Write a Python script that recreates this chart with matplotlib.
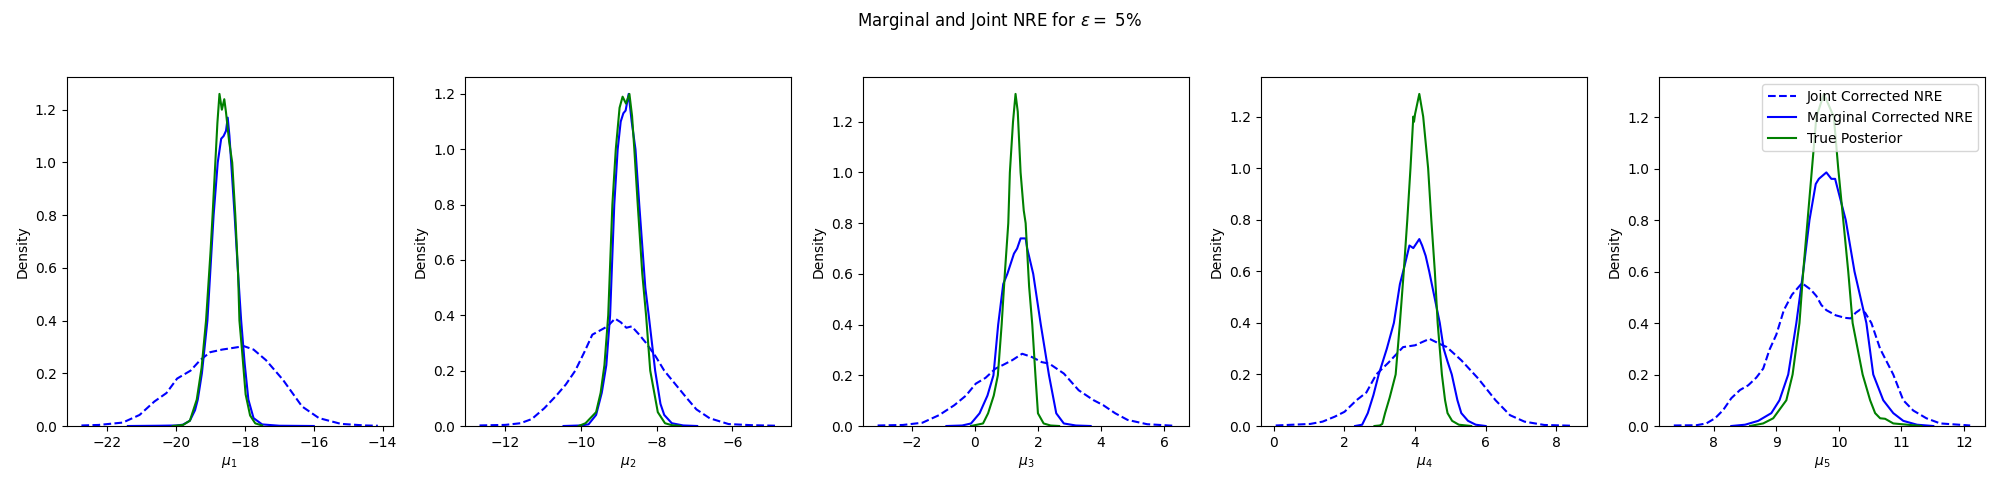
import matplotlib
matplotlib.use("Agg")
import matplotlib.pyplot as plt

# ── Curves (KDE density per parameter) ─────────────────────────────────
# mu_1
joint_x1 = [-22.75, -22.25, -21.55, -21.06, -20.63, -20.28, -19.97, -19.58, -19.3, -19.01,
            -18.66, -18.31, -18.03, -17.75, -17.39, -16.9, -16.34, -15.85, -15.21, -14.5, -14.14]
joint_y1 = [0.002, 0.004, 0.013, 0.042, 0.093, 0.125, 0.18, 0.21, 0.25, 0.28,
            0.29, 0.297, 0.303, 0.29, 0.25, 0.176, 0.074, 0.03, 0.008, 0.002, 0.001]
marg_x1 = [-21.4, -20.5, -20.0, -19.8, -19.6, -19.45, -19.37, -19.25, -19.09, -18.91, -18.79,
           -18.69, -18.62, -18.55, -18.50, -18.45, -18.40, -18.30, -18.2, -18.11, -18.01,
           -17.9, -17.75, -17.5, -17.0, -16.0]
marg_y1 = [0.0, 0.001, 0.002, 0.005, 0.02, 0.06, 0.1, 0.2, 0.40, 0.80, 1.00,
           1.09, 1.10, 1.12, 1.17, 1.10, 1.00, 0.80, 0.58, 0.40, 0.24,
           0.10, 0.03, 0.006, 0.001, 0.0]
true_x1 = [-20.1, -19.8, -19.6, -19.4, -19.26, -19.13, -19.0, -18.94, -18.86, -18.8, -18.74,
           -18.67, -18.60, -18.55, -18.46, -18.37, -18.28, -18.2, -18.16, -18.08, -17.98,
           -17.85, -17.7, -17.5]
true_y1 = [0.0, 0.004, 0.02, 0.1, 0.22, 0.4, 0.66, 0.8, 1.0, 1.15, 1.26,
           1.20, 1.24, 1.19, 1.08, 1.0, 0.8, 0.58, 0.4, 0.28, 0.12,
           0.04, 0.01, 0.002]

# mu_2
joint_x2 = [-12.68, -12.0, -11.6, -11.3, -10.97, -10.65, -10.4, -10.15, -9.9, -9.7, -9.5,
            -9.3, -9.1, -8.95, -8.8, -8.66, -8.46, -8.28, -8.02, -7.8, -7.5, -7.2, -6.95,
            -6.6, -6.1, -5.5, -4.85]
joint_y2 = [0.002, 0.004, 0.01, 0.025, 0.064, 0.11, 0.15, 0.2, 0.27, 0.33, 0.345,
            0.36, 0.388, 0.375, 0.355, 0.36, 0.33, 0.3, 0.25, 0.2, 0.15, 0.1, 0.06,
            0.028, 0.007, 0.003, 0.001]
marg_x2 = [-10.46, -10.0, -9.8, -9.6, -9.45, -9.33, -9.23, -9.12, -9.03, -8.95, -8.88, -8.82,
           -8.74, -8.66, -8.56, -8.46, -8.3, -8.21, -8.04, -7.9, -7.8, -7.6, -7.3, -6.93]
marg_y2 = [0.0, 0.002, 0.006, 0.04, 0.12, 0.22, 0.4, 0.8, 1.0, 1.1, 1.13, 1.14,
           1.2, 1.1, 1.0, 0.8, 0.5, 0.4, 0.2, 0.08, 0.04, 0.01, 0.002, 0.0]
true_x2 = [-10.06, -9.88, -9.6, -9.48, -9.38, -9.28, -9.17, -9.08, -8.98, -8.9, -8.81, -8.72,
           -8.65, -8.59, -8.5, -8.38, -8.28, -8.17, -7.97, -7.78, -7.6, -7.37]
true_y2 = [0.0, 0.01, 0.05, 0.12, 0.22, 0.4, 0.8, 1.0, 1.15, 1.19, 1.165, 1.2,
           1.12, 1.0, 0.8, 0.55, 0.4, 0.2, 0.05, 0.01, 0.003, 0.0]

# mu_3
joint_x3 = [-3.08, -2.28, -1.66, -1.13, -0.65, -0.28, 0.03, 0.34, 0.65, 0.88, 1.19, 1.5,
            1.81, 2.12, 2.36, 2.82, 3.29, 3.76, 4.07, 4.45, 4.84, 5.46, 6.31]
joint_y3 = [0.002, 0.004, 0.013, 0.043, 0.082, 0.12, 0.167, 0.19, 0.226, 0.24, 0.26, 0.285,
            0.272, 0.252, 0.246, 0.207, 0.141, 0.102, 0.082, 0.05, 0.024, 0.007, 0.001]
marg_x3 = [-0.9, -0.4, -0.12, 0.15, 0.4, 0.59, 0.74, 0.9, 1.03, 1.24, 1.34, 1.45, 1.61,
           1.66, 1.85, 2.09, 2.35, 2.58, 2.82, 3.2, 3.67]
marg_y3 = [0.0, 0.002, 0.01, 0.05, 0.12, 0.2, 0.4, 0.56, 0.6, 0.68, 0.7, 0.74, 0.74,
           0.7, 0.6, 0.4, 0.2, 0.05, 0.01, 0.002, 0.0]
true_x3 = [-0.12, 0.26, 0.42, 0.6, 0.73, 0.85, 0.95, 1.06, 1.11, 1.21, 1.29, 1.36, 1.45,
           1.55, 1.61, 1.72, 1.82, 1.92, 2.0, 2.18, 2.4, 2.67]
true_y3 = [0.0, 0.01, 0.05, 0.12, 0.2, 0.4, 0.6, 0.8, 1.0, 1.2, 1.31, 1.24, 1.0,
           0.85, 0.8, 0.55, 0.4, 0.2, 0.05, 0.01, 0.002, 0.0]

# mu_4
joint_x4 = [0.05, 1.03, 1.38, 1.72, 2.0, 2.34, 2.62, 2.9, 3.24, 3.66, 4.0, 4.21, 4.41,
            4.69, 4.9, 5.31, 5.79, 6.28, 6.69, 7.1, 7.66, 8.45]
joint_y4 = [0.002, 0.008, 0.017, 0.036, 0.055, 0.1, 0.13, 0.2, 0.245, 0.306, 0.313, 0.326, 0.338,
            0.319, 0.306, 0.255, 0.184, 0.1, 0.042, 0.017, 0.004, 0.001]
marg_x4 = [2.3, 2.5, 2.66, 2.82, 2.97, 3.2, 3.40, 3.57, 3.7, 3.84, 3.95, 4.12, 4.2, 4.3,
           4.40, 4.55, 4.70, 4.81, 4.92, 5.04, 5.2, 5.31, 5.5, 5.72, 6.0]
marg_y4 = [0.0, 0.005, 0.05, 0.12, 0.2, 0.3, 0.4, 0.55, 0.62, 0.70, 0.69, 0.725, 0.7, 0.66,
           0.6, 0.5, 0.4, 0.3, 0.25, 0.2, 0.1, 0.05, 0.02, 0.005, 0.0]
true_x4 = [2.85, 3.0, 3.07, 3.15, 3.28, 3.45, 3.57, 3.68, 3.78, 3.87, 3.95, 3.97, 4.0, 4.12,
           4.23, 4.37, 4.46, 4.56, 4.64, 4.76, 4.85, 4.92, 5.05, 5.24, 5.59]
true_y4 = [0.0, 0.002, 0.008, 0.05, 0.11, 0.2, 0.4, 0.6, 0.8, 1.0, 1.2, 1.18, 1.21, 1.288,
           1.2, 1.0, 0.8, 0.6, 0.4, 0.2, 0.1, 0.05, 0.02, 0.005, 0.0]

# mu_5
joint_x5 = [7.36, 7.72, 7.88, 8.02, 8.15, 8.28, 8.42, 8.55, 8.68, 8.79, 8.89, 9.0, 9.12,
            9.25, 9.41, 9.55, 9.64, 9.72, 9.8, 9.95, 10.1, 10.19, 10.27, 10.34, 10.42,
            10.52, 10.66, 10.87, 11.03, 11.19, 11.4, 11.62, 12.1]
joint_y5 = [0.002, 0.003, 0.01, 0.03, 0.062, 0.108, 0.14, 0.158, 0.188, 0.223, 0.296, 0.355, 0.45,
            0.51, 0.555, 0.53, 0.505, 0.47, 0.45, 0.43, 0.42, 0.418, 0.44, 0.452, 0.44,
            0.4, 0.3, 0.2, 0.1, 0.06, 0.03, 0.01, 0.002]
marg_x5 = [8.28, 8.5, 8.71, 8.92, 9.05, 9.19, 9.32, 9.43, 9.53, 9.63, 9.68, 9.8, 9.88,
           9.94, 10.11, 10.25, 10.44, 10.55, 10.71, 10.87, 11.03, 11.25, 11.51]
marg_y5 = [0.0, 0.005, 0.02, 0.05, 0.1, 0.2, 0.4, 0.6, 0.8, 0.94, 0.96, 0.985, 0.96,
           0.96, 0.8, 0.6, 0.4, 0.2, 0.1, 0.05, 0.02, 0.005, 0.0]
true_x5 = [8.58, 8.79, 8.95, 9.01, 9.16, 9.26, 9.37, 9.43, 9.5, 9.57, 9.64, 9.76, 9.92,
           9.99, 10.07, 10.15, 10.22, 10.3, 10.38, 10.5, 10.58, 10.66, 10.74, 10.87, 11.32]
true_y5 = [0.0, 0.01, 0.03, 0.05, 0.1, 0.2, 0.4, 0.6, 0.8, 1.0, 1.2, 1.29, 1.2,
           1.0, 0.8, 0.6, 0.4, 0.3, 0.2, 0.1, 0.05, 0.03, 0.028, 0.01, 0.0]

joint_x = [joint_x1, joint_x2, joint_x3, joint_x4, joint_x5]
joint_y = [joint_y1, joint_y2, joint_y3, joint_y4, joint_y5]
marg_x = [marg_x1, marg_x2, marg_x3, marg_x4, marg_x5]
marg_y = [marg_y1, marg_y2, marg_y3, marg_y4, marg_y5]
true_x = [true_x1, true_x2, true_x3, true_x4, true_x5]
true_y = [true_y1, true_y2, true_y3, true_y4, true_y5]
param_labels = [r"$\mu_1$", r"$\mu_2$", r"$\mu_3$", r"$\mu_4$", r"$\mu_5$"]
eps_pct = 5

# ── Figure ─────────────────────────────────────────────────────────────
fig, axes = plt.subplots(1, 5, figsize=(20, 5), dpi=100)
fig.subplots_adjust(left=0.0333, right=0.9925, top=0.8454, bottom=0.148, wspace=0.221)

for i, ax in enumerate(axes):
    lines = []
    lines += ax.plot(joint_x[i], joint_y[i], color="blue", linestyle="--",
                     label="Joint Corrected NRE")
    lines += ax.plot(marg_x[i], marg_y[i], color="blue", label="Marginal Corrected NRE")
    lines += ax.plot(true_x[i], true_y[i], color="green", label="True Posterior")
    # keep density axis anchored at zero, like seaborn's kdeplot
    for ln in lines:
        ln.sticky_edges.y[:] = [0]
    ax.autoscale_view()
    ax.set_xlabel(param_labels[i])
    ax.set_ylabel("Density")

axes[-1].legend(loc="upper right")
fig.suptitle(rf"Marginal and Joint NRE for $\epsilon =$ {eps_pct}%")

fig.savefig("out.png", dpi=100)
